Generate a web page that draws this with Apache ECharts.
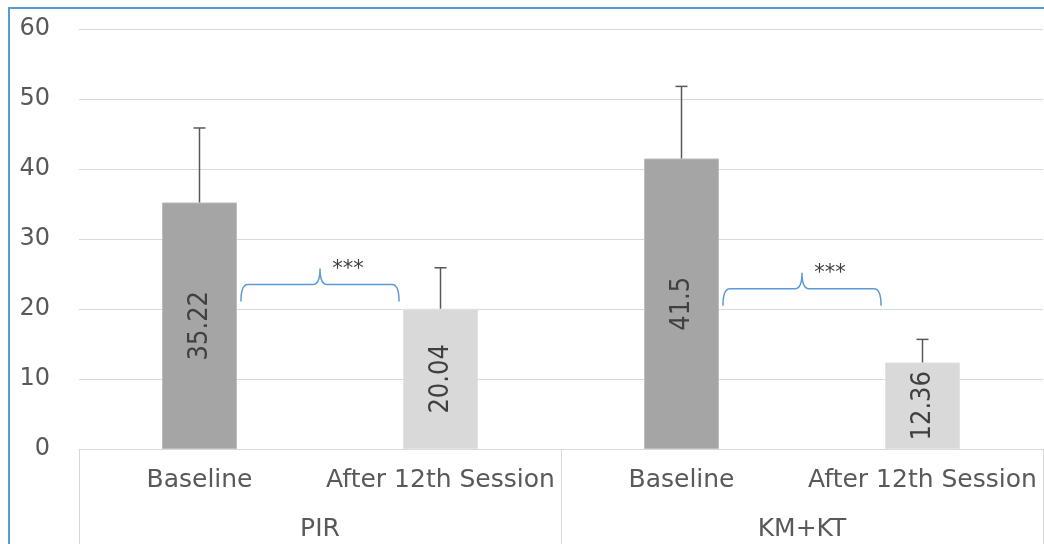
<!DOCTYPE html>
<html>
<head>
<meta charset="utf-8">
<script src="https://cdn.jsdelivr.net/npm/echarts@6/dist/echarts.min.js"></script>
<style>html,body{margin:0;padding:0;background:#fff}#c{width:1044px;height:544px}</style>
</head>
<body>
<div id="c"></div>
<script>
// ---- data ----
var groups = ['PIR', 'KM+KT'];
var phases = ['Baseline', 'After 12th Session'];
var means = [35.22, 20.04, 41.5, 12.36];
var sds = [10.64, 5.85, 10.3, 3.3];
var bracketLevels = [23.5, 22.9];
var bracketText = ['***', '***'];
var yTicks = [0, 10, 20, 30, 40, 50, 60];

// ---- build ----
var categories = [];
groups.forEach(function (g) { phases.forEach(function (p) { categories.push(g + '|' + p); }); });
var phaseColors = ['#a5a5a5', '#d9d9d9'];
var phaseBorders = ['#bdbdbd', '#e2e2e2'];
var barData = means.map(function (v, i) {
  return { value: v, itemStyle: { color: phaseColors[i % 2], borderColor: phaseBorders[i % 2], borderWidth: 1 } };
});
var errData = means.map(function (v, i) { return [i, v, sds[i]]; });
var bracketData = bracketLevels.map(function (l, i) { return [i * 2, l, i]; });

var chart = echarts.init(document.getElementById('c'));
chart.setOption({
  animation: false,
  backgroundColor: '#ffffff',
  grid: { left: 79, right: 1, top: 29, bottom: 95, containLabel: false },
  graphic: [{
    type: 'polyline', shape: { points: [[9, 560], [9, 8], [1060, 8]] },
    style: { fill: 'none', stroke: '#5b9bd5', lineWidth: 2 }, silent: true, z: 100
  }],
  xAxis: [{
    type: 'category', data: categories, gridIndex: 0,
    axisLine: { show: true, lineStyle: { color: '#d9d9d9', width: 1 } },
    axisTick: { show: false },
    axisLabel: {
      interval: 0, margin: 19, color: '#595959', fontSize: 25, fontFamily: 'DejaVu Sans',
      formatter: function (v) { return v.split('|')[1]; }
    },
    splitLine: { show: false }
  }, {
    type: 'category', data: groups, gridIndex: 0, position: 'bottom',
    axisLine: { show: false },
    axisTick: { show: true, length: 100, interval: 0, lineStyle: { color: '#d9d9d9', width: 1 } },
    axisLabel: { interval: 0, margin: 68, color: '#595959', fontSize: 25, fontFamily: 'DejaVu Sans' },
    splitLine: { show: false }
  }],
  yAxis: {
    type: 'value', min: yTicks[0], max: yTicks[yTicks.length - 1], interval: yTicks[1] - yTicks[0],
    axisLine: { show: false }, axisTick: { show: false },
    axisLabel: { margin: 29, color: '#595959', fontSize: 24, fontFamily: 'DejaVu Sans' },
    splitLine: { lineStyle: { color: '#d9d9d9', width: 1 } }
  },
  series: [{
    type: 'bar', xAxisIndex: 0, data: barData, barWidth: 75,
    label: {
      show: true, position: 'inside', rotate: 90, color: '#404040',
      fontSize: 27, fontFamily: "'Liberation Sans Narrow', 'DejaVu Sans Condensed', sans-serif"
    },
    z: 2
  }, {
    type: 'custom', xAxisIndex: 0, data: errData, z: 3,
    encode: { x: 0, y: 1 },
    renderItem: function (params, api) {
      var i = api.value(0), m = api.value(1), s = api.value(2);
      var b = api.coord([i, m]);
      var t = api.coord([i, m + s]);
      var cap = 6;
      return {
        type: 'group', children: [
          { type: 'line', shape: { x1: b[0], y1: b[1], x2: t[0], y2: t[1] }, style: { stroke: '#595959', lineWidth: 1.5 } },
          { type: 'line', shape: { x1: t[0] - cap, y1: t[1], x2: t[0] + cap, y2: t[1] }, style: { stroke: '#595959', lineWidth: 1.5 } }
        ]
      };
    }
  }, {
    type: 'custom', xAxisIndex: 0, data: bracketData, z: 4,
    encode: { x: 0, y: 1 },
    renderItem: function (params, api) {
      var i = api.value(0), lvl = api.value(1), gi = api.value(2);
      var c0 = api.coord([i, lvl]);
      var c1 = api.coord([i + 1, lvl]);
      var band = api.size([1, 0])[0];
      var x0 = c0[0] + 0.172 * band, x1 = c1[0] - 0.172 * band;
      var y = c0[1], xm = (x0 + x1) / 2;
      var drop = 17, rise = 16, r = 7;
      var path = 'M' + x0 + ' ' + (y + drop) +
        ' Q' + x0 + ' ' + y + ' ' + (x0 + r) + ' ' + y +
        ' L' + (xm - r) + ' ' + y +
        ' Q' + xm + ' ' + y + ' ' + xm + ' ' + (y - rise) +
        ' Q' + xm + ' ' + y + ' ' + (xm + r) + ' ' + y +
        ' L' + (x1 - r) + ' ' + y +
        ' Q' + x1 + ' ' + y + ' ' + x1 + ' ' + (y + drop);
      return {
        type: 'group', children: [
          { type: 'path', shape: { pathData: path }, style: { fill: 'none', stroke: '#5b9bd5', lineWidth: 1.5 } },
          { type: 'text', style: { x: xm + 28, y: y - 15, text: bracketText[gi], fill: '#404040', fontSize: 21, fontFamily: 'DejaVu Sans', align: 'center', verticalAlign: 'middle' } }
        ]
      };
    }
  }]
});
</script>
</body>
</html>
